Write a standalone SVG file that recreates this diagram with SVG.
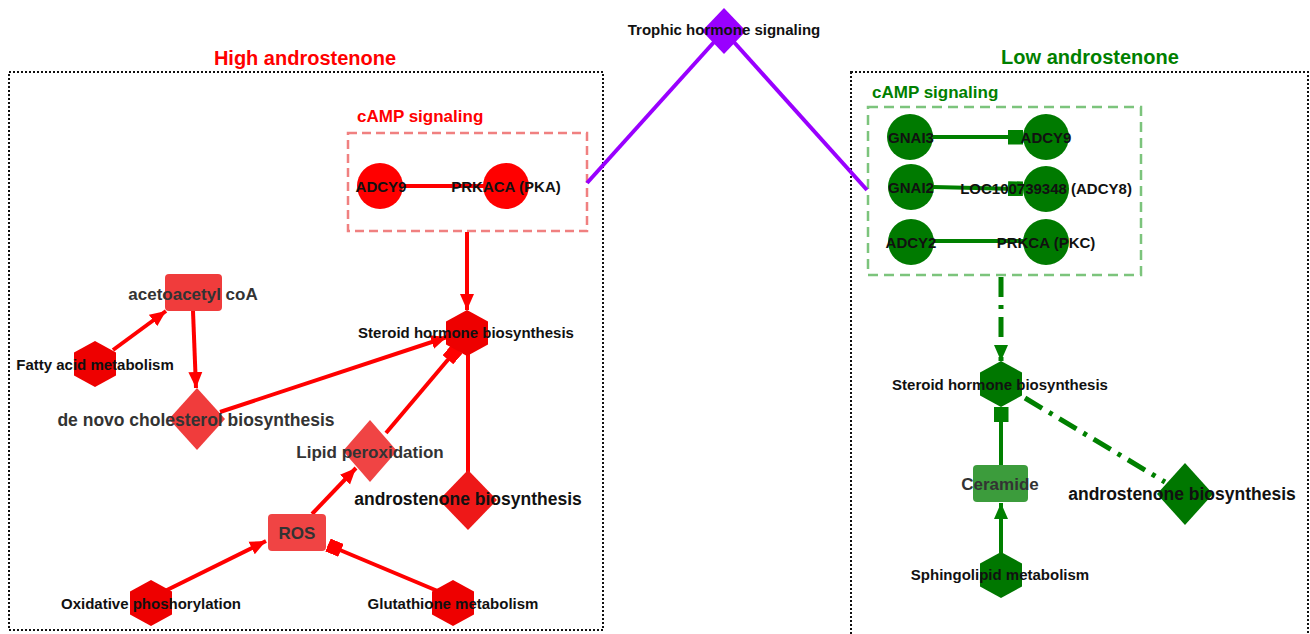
<svg xmlns="http://www.w3.org/2000/svg" xmlns:xlink="http://www.w3.org/1999/xlink" width="1310" height="634" viewBox="0 0 1310 634">
<style>
.t{font-family:"Liberation Sans",Arial,sans-serif;font-weight:bold;text-anchor:middle;fill:#111}
.s15{font-size:15px}.s17{font-size:17px}.s175{font-size:17.5px}.gr{fill:#333}
.title{font-family:"Liberation Sans",Arial,sans-serif;font-weight:bold;font-size:20px;text-anchor:middle}
.grp{font-family:"Liberation Sans",Arial,sans-serif;font-weight:bold;font-size:17px}
.er{stroke:#ff0000;stroke-width:4;fill:none}
.eg{stroke:#008000;stroke-width:4;fill:none}
.ep{stroke:#9900ff;stroke-width:4;fill:none}
.dd{stroke-width:5;stroke-dasharray:20 8 4 8}
.dot{fill:none;stroke:#111;stroke-width:2;stroke-dasharray:2 2}
.red{fill:#ff0000}.redl{fill:#f03c3c}.grn{fill:#007a00}.grnl{fill:#3c9c3c}
</style>
<defs>
<polygon id="hex" points="0,-23 21,-11.5 21,11.5 0,23 -21,11.5 -21,-11.5"/>
<marker id="arR" markerUnits="userSpaceOnUse" markerWidth="16" markerHeight="16" refX="16" refY="8" orient="auto"><path d="M0,1 L16,8 L0,15 z" fill="#ff0000"/></marker>
<marker id="sqR" markerUnits="userSpaceOnUse" markerWidth="14" markerHeight="14" refX="14" refY="7" orient="auto"><rect width="14" height="14" fill="#ff0000"/></marker>
<marker id="arG" markerUnits="userSpaceOnUse" markerWidth="16" markerHeight="16" refX="16" refY="8" orient="auto"><path d="M0,1 L16,8 L0,15 z" fill="#008000"/></marker>
<marker id="sqG" markerUnits="userSpaceOnUse" markerWidth="15" markerHeight="15" refX="15" refY="7.5" orient="auto"><rect width="15" height="15" fill="#008000"/></marker>
</defs>
<rect width="1310" height="634" fill="#fff"/>

<g id="frames">
<rect class="dot" x="9" y="72" width="594" height="558"/>
<rect class="dot" x="851" y="72" width="457" height="580"/>
<text class="title" x="305" y="65" fill="#ff0000">High androstenone</text>
<text class="title" x="1090" y="64" fill="#008000">Low androstenone</text>
<rect x="348" y="133" width="239" height="98" fill="none" stroke="#f08080" stroke-width="2.5" stroke-dasharray="9 5"/>
<text class="grp" x="357" y="122" fill="#ff0000">cAMP signaling</text>
<rect x="868" y="107" width="273" height="168" fill="none" stroke="#7cc47c" stroke-width="2.5" stroke-dasharray="10 6"/>
<text class="grp" x="872" y="98" fill="#008000">cAMP signaling</text>
</g>

<g id="connectors">
<line class="ep" x1="724" y1="31" x2="587" y2="183"/>
<line class="ep" x1="724" y1="31" x2="867" y2="190"/>
<line class="er" x1="380" y1="186" x2="506" y2="186"/>
<line class="er" x1="467" y1="232" x2="467" y2="310" marker-end="url(#arR)"/>
<line class="er" x1="113" y1="350" x2="166" y2="311" marker-end="url(#arR)"/>
<line class="er" x1="193" y1="311" x2="196" y2="388" marker-end="url(#arR)"/>
<line class="er" x1="220" y1="412" x2="447" y2="337" marker-end="url(#arR)"/>
<line class="er" x1="386" y1="433" x2="457" y2="349" marker-end="url(#sqR)"/>
<line class="er" x1="468" y1="350" x2="468" y2="472"/>
<line class="er" x1="312" y1="514" x2="356" y2="468" marker-end="url(#arR)"/>
<line class="er" x1="165" y1="591" x2="266" y2="541" marker-end="url(#arR)"/>
<line class="er" x1="440" y1="592" x2="328" y2="545" marker-end="url(#sqR)"/>
<line class="eg" x1="933" y1="137" x2="1023" y2="137" marker-end="url(#sqG)"/>
<line class="eg" x1="933" y1="187" x2="1023" y2="189" marker-end="url(#sqG)"/>
<line class="eg" x1="933" y1="241" x2="1026" y2="241"/>
<line class="eg dd" x1="1001" y1="277" x2="1001" y2="361" marker-end="url(#arG)"/>
<line class="eg dd" x1="1025" y1="398" x2="1165" y2="482"/>
<line class="eg" x1="1001" y1="465" x2="1001" y2="407" marker-end="url(#sqG)"/>
<line class="eg" x1="1001" y1="553" x2="1001" y2="503" marker-end="url(#arG)"/>
</g>

<g id="trophic"><polygon points="724,8 746,31 724,54 702,31" fill="#9900ff"/><text class="t s15" x="724" y="35">Trophic hormone signaling</text></g>

<g id="adcy9-h"><circle cx="380" cy="186" r="23" class="red"/><text class="t s15" x="381" y="192">ADCY9</text></g>
<g id="prkaca-h"><circle cx="506" cy="186" r="23" class="red"/><text class="t s15" x="506" y="192">PRKACA (PKA)</text></g>
<g id="steroid-h"><use xlink:href="#hex" x="467" y="333" fill="#ee0000"/><text class="t s15" x="466" y="338">Steroid hormone biosynthesis</text></g>
<g id="acetoacetyl"><rect x="165" y="274" width="57" height="37" rx="4" class="redl"/><text class="t s17 gr" x="193" y="300">acetoacetyl coA</text></g>
<g id="fatty"><use xlink:href="#hex" x="95" y="364" fill="#ee0000"/><text class="t s15" x="95" y="370">Fatty acid metabolism</text></g>
<g id="denovo"><polygon points="197,388 225,419 197,450 169,419" class="redl"/><text class="t s175 gr" x="196" y="426">de novo cholesterol biosynthesis</text></g>
<g id="lipid"><polygon points="370,420 397,451 370,482 343,451" fill="#f04444"/><text class="t s17 gr" x="370" y="458">Lipid peroxidation</text></g>
<g id="andro-h"><polygon points="468,470 497,500 468,530 439,500" fill="#ee1818"/><text class="t s175" x="468" y="505">androstenone biosynthesis</text></g>
<g id="ros"><rect x="268" y="514" width="58" height="37" rx="4" fill="#f04444"/><text class="t s17 gr" x="297" y="539" font-weight="normal">ROS</text></g>
<g id="oxphos"><use xlink:href="#hex" x="151" y="603" fill="#ee0000"/><text class="t s15" x="151" y="609">Oxidative phoshorylation</text></g>
<g id="glutathione"><use xlink:href="#hex" x="453" y="603" fill="#ee0000"/><text class="t s15" x="453" y="609">Glutathione metabolism</text></g>

<g id="gnai3"><circle cx="910" cy="137" r="23" class="grn"/><text class="t s15" x="911" y="143">GNAI3</text></g>
<g id="adcy9-l"><circle cx="1046" cy="137" r="23" class="grn"/><text class="t s15" x="1046" y="143">ADCY9</text></g>
<g id="gnai2"><circle cx="911" cy="187" r="23" class="grn"/><text class="t s15" x="911" y="193">GNAI2</text></g>
<g id="loc"><circle cx="1046" cy="189" r="23" class="grn"/><text class="t s15" x="1046" y="194">LOC100739348 (ADCY8)</text></g>
<g id="adcy2"><circle cx="911" cy="242" r="23" class="grn"/><text class="t s15" x="911" y="248">ADCY2</text></g>
<g id="prkca"><circle cx="1046" cy="242" r="23" class="grn"/><text class="t s15" x="1046" y="248">PRKCA (PKC)</text></g>
<g id="steroid-l"><use xlink:href="#hex" x="1001" y="384" fill="#007700"/><text class="t s15" x="1000" y="390">Steroid hormone biosynthesis</text></g>
<g id="ceramide"><rect x="973" y="465" width="55" height="37" rx="4" class="grnl"/><text class="t s17 gr" x="1000" y="490">Ceramide</text></g>
<g id="andro-l"><polygon points="1185,463 1213,494 1185,525 1157,494" fill="#007700"/><text class="t s175" x="1182" y="500">androstenone biosynthesis</text></g>
<g id="sphingo"><use xlink:href="#hex" x="1001" y="575" fill="#007700"/><text class="t s15" x="1000" y="580">Sphingolipid metabolism</text></g>
</svg>
